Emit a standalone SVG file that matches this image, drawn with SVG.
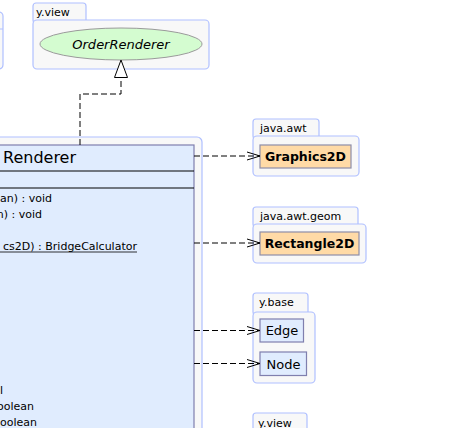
<svg xmlns="http://www.w3.org/2000/svg" width="465" height="428" viewBox="0 0 465 428">
<defs>
<style>
.pkg{fill:#f8f8f8;stroke:#b0c0ff;stroke-width:1.2}
.pkgt{font-family:"DejaVu Sans",sans-serif;font-size:11px;fill:#000}
.cls{fill:#e0ecfe;stroke:#7f7fae;stroke-width:1.2}
.ext{fill:#ffdaa6;stroke:#8e8ea8;stroke-width:1.2}
.lbl{font-family:"DejaVu Sans",sans-serif;font-size:12.5px;font-weight:bold;fill:#000;text-anchor:middle}
.lbln{font-family:"DejaVu Sans",sans-serif;font-size:13px;fill:#000;text-anchor:middle}
.mem{font-family:"DejaVu Sans",sans-serif;font-size:11px;fill:#000;text-anchor:end}
.dep{fill:none;stroke:#000;stroke-width:1;stroke-dasharray:6,3}
</style>
<marker id="open" viewBox="0 0 14 10" refX="13" refY="5" markerWidth="14" markerHeight="10" markerUnits="userSpaceOnUse" orient="auto">
<path d="M0,1 L13,5 L0,9" fill="none" stroke="#000" stroke-width="1"/>
</marker>
</defs>

<g id="pkg-left">
<rect class="pkg" x="-60" y="12" width="63" height="57" rx="4"/>
<line x1="-60" y1="29" x2="3" y2="29" stroke="#b0c0ff" stroke-width="1.2"/>
</g>

<g id="pkg-yview-top">
<rect class="pkg" x="33" y="3" width="53" height="20" rx="3"/>
<rect class="pkg" x="33" y="20" width="176" height="49" rx="4"/>
<text class="pkgt" x="36" y="16">y.view</text>
</g>
<g id="OrderRenderer">
<ellipse cx="121" cy="44" rx="81" ry="16" fill="#d4fcd0" stroke="#9a9a9a" stroke-width="1"/>
<text x="121" y="49" font-family="DejaVu Sans, sans-serif" font-size="13" font-style="italic" text-anchor="middle">OrderRenderer</text>
</g>

<g id="pkg-class">
<rect class="pkg" x="-20" y="137" width="222" height="310" rx="5"/>
</g>
<g id="Renderer">
<rect class="cls" x="-10" y="145" width="204" height="300"/>
<text x="3" y="163" font-family="DejaVu Sans, sans-serif" font-size="16">Renderer</text>
<line x1="-10" y1="171" x2="194" y2="171" stroke="#000" stroke-width="1"/>
<line x1="-10" y1="188" x2="194" y2="188" stroke="#000" stroke-width="1"/>
<text class="mem" x="52" y="202">an) : void</text>
<text class="mem" x="42" y="218">n) : void</text>
<text class="mem" x="137" y="249.5">cs2D) : BridgeCalculator</text>
<line x1="0" y1="252" x2="137" y2="252" stroke="#000" stroke-width="0.8"/>
<text class="mem" x="3" y="393.5">l</text>
<text class="mem" x="34" y="409.5">oolean</text>
<text class="mem" x="37" y="425.5">oolean</text>
</g>

<g id="pkg-javaawt">
<rect class="pkg" x="253" y="119" width="66" height="20" rx="3"/>
<rect class="pkg" x="253" y="136" width="106" height="40" rx="4"/>
<text class="pkgt" x="260" y="132">java.awt</text>
</g>
<g id="Graphics2D">
<rect class="ext" x="260" y="145" width="91" height="23"/>
<text class="lbl" x="305.5" y="161">Graphics2D</text>
</g>

<g id="pkg-javaawtgeom">
<rect class="pkg" x="253" y="207" width="105" height="20" rx="3"/>
<rect class="pkg" x="253" y="224" width="113" height="39" rx="4"/>
<text class="pkgt" x="260" y="220">java.awt.geom</text>
</g>
<g id="Rectangle2D">
<rect class="ext" x="260" y="232" width="99" height="23"/>
<text class="lbl" x="309.5" y="248">Rectangle2D</text>
</g>

<g id="pkg-ybase">
<rect class="pkg" x="253" y="293" width="55" height="22" rx="3"/>
<rect class="pkg" x="253" y="312" width="62" height="71" rx="4"/>
<text class="pkgt" x="259" y="306">y.base</text>
</g>
<g id="Edge">
<rect class="cls" x="260" y="319" width="43.5" height="23"/>
<text class="lbln" x="282" y="335">Edge</text>
</g>
<g id="Node">
<rect class="cls" x="260" y="352" width="46.5" height="23.5"/>
<text class="lbln" x="283.5" y="368.5">Node</text>
</g>

<g id="pkg-yview-bottom">
<rect class="pkg" x="253" y="413" width="54" height="22" rx="3"/>
<text class="pkgt" x="258" y="427">y.view</text>
</g>

<g id="connectors">
<path class="dep" d="M80,145 V94 H121 V77"/>
<path d="M121,60 L127.5,77.5 L114.5,77.5 Z" fill="#fff" stroke="#000" stroke-width="1"/>
<line class="dep" x1="194" y1="156" x2="260" y2="156" marker-end="url(#open)"/>
<line class="dep" x1="194" y1="243" x2="260" y2="243" marker-end="url(#open)"/>
<line class="dep" x1="194" y1="330.5" x2="260" y2="330.5" marker-end="url(#open)"/>
<line class="dep" x1="194" y1="363.5" x2="260" y2="363.5" marker-end="url(#open)"/>
</g>
</svg>
